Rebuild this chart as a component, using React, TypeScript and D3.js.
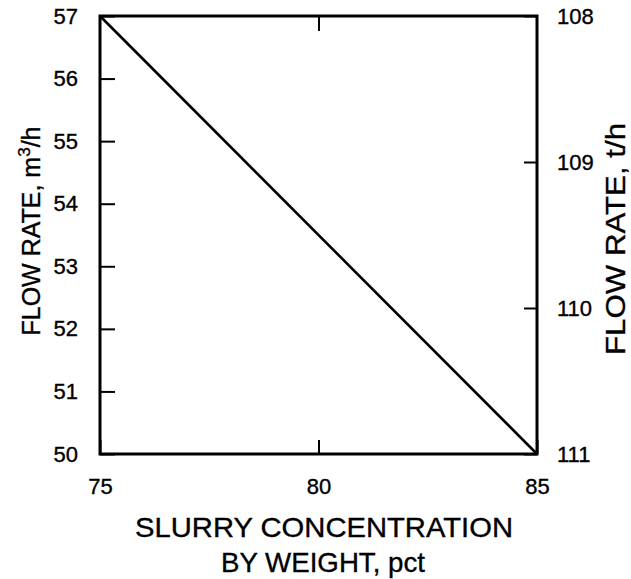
import React, { useEffect, useRef } from "react";
import * as d3 from "d3";

// data
const concentration = [75, 85];           // slurry concentration by weight, pct
const flowM3 = [57, 50];                  // flow rate, m3/h
const xTicks = [75, 80, 85];
const yLeftTicks = [50, 51, 52, 53, 54, 55, 56, 57];
const yRightTicks = [108, 109, 110, 111]; // flow rate, t/h (runs downward)

const W = 631;
const H = 579;
const left = 100;
const right = 537;
const top = 16;
const bottom = 454;
const FONT = "'Liberation Sans', Arial, Helvetica, sans-serif";

function App() {
    const svgRef = useRef<SVGSVGElement>(null);

    useEffect(() => {
        const svg = d3.select(svgRef.current);
        svg.selectAll("*").remove();

        const x = d3.scaleLinear().domain([75, 85]).range([left, right]);
        const yL = d3.scaleLinear().domain([50, 57]).range([bottom, top]);
        const yR = d3.scaleLinear().domain([108, 111]).range([top, bottom]);

        // 축 스타일 한번에
        const styleAxis = (g: any, size: number) => {
            g.select(".domain").remove();
            g.selectAll(".tick line").attr("stroke", "#000").attr("stroke-width", 2);
            g.selectAll(".tick text")
                .attr("fill", "#000")
                .attr("stroke", "#000")
                .attr("stroke-width", 0.35)
                .attr("font-family", FONT)
                .attr("font-size", size);
        };

        svg.append("g")
            .attr("transform", `translate(${left},0)`)
            .call(d3.axisLeft(yL).tickValues(yLeftTicks).tickSizeInner(-15).tickSizeOuter(0).tickPadding(22).tickFormat(d3.format("d")))
            .call((g) => styleAxis(g, 22));

        svg.append("g")
            .attr("transform", `translate(${right},0)`)
            .call(d3.axisRight(yR).tickValues(yRightTicks).tickSizeInner(-13).tickSizeOuter(0).tickPadding(20).tickFormat(d3.format("d")))
            .call((g) => styleAxis(g, 22));

        svg.append("g")
            .attr("transform", `translate(0,${bottom})`)
            .call(d3.axisBottom(x).tickValues(xTicks).tickSizeInner(-14).tickSizeOuter(0).tickPadding(24).tickFormat(d3.format("d")))
            .call((g) => styleAxis(g, 22));

        svg.append("g")
            .attr("transform", `translate(0,${top})`)
            .call(d3.axisTop(x).tickValues([80]).tickSizeInner(-15).tickSizeOuter(0).tickFormat(() => ""))
            .call((g) => styleAxis(g, 22));

        // 테두리
        svg.append("rect")
            .attr("x", left).attr("y", top)
            .attr("width", right - left).attr("height", bottom - top)
            .attr("fill", "none").attr("stroke", "#000").attr("stroke-width", 3);

        // 데이터 선
        const pts = concentration.map((c, i) => [x(c), yL(flowM3[i])] as [number, number]);
        svg.append("path")
            .attr("d", d3.line()(pts))
            .attr("fill", "none")
            .attr("stroke", "#000")
            .attr("stroke-width", 2.6);

        // 축 제목
        const title = (sel: any) => sel
            .attr("font-family", FONT).attr("text-anchor", "middle")
            .attr("fill", "#000").attr("stroke", "#000").attr("stroke-width", 0.35);

        const xt = svg.append("text").attr("font-size", 28).call(title);
        xt.append("tspan").attr("x", 324).attr("y", 537)
            .attr("textLength", 378).attr("lengthAdjust", "spacingAndGlyphs")
            .text("SLURRY CONCENTRATION");
        xt.append("tspan").attr("x", 323).attr("y", 572)
            .attr("textLength", 204).attr("lengthAdjust", "spacingAndGlyphs")
            .text("BY WEIGHT, pct");

        const lt = svg.append("text")
            .attr("transform", "translate(40,231) rotate(-90)")
            .attr("font-size", 25).call(title);
        lt.append("tspan").text("FLOW RATE, m");
        lt.append("tspan").attr("dy", -10).attr("font-size", 17).text("3");
        lt.append("tspan").attr("dy", 10).text("/h");

        svg.append("text")
            .attr("transform", "translate(625,239) rotate(-90)")
            .attr("font-size", 28).call(title)
            .attr("textLength", 232).attr("lengthAdjust", "spacingAndGlyphs")
            .text("FLOW RATE, t/h");
    }, []);

    return (
        <svg ref={svgRef} width={W} height={H}
            style={{ position: "absolute", left: 0, top: 0, background: "#fff" }} />
    );
}

export default App;
